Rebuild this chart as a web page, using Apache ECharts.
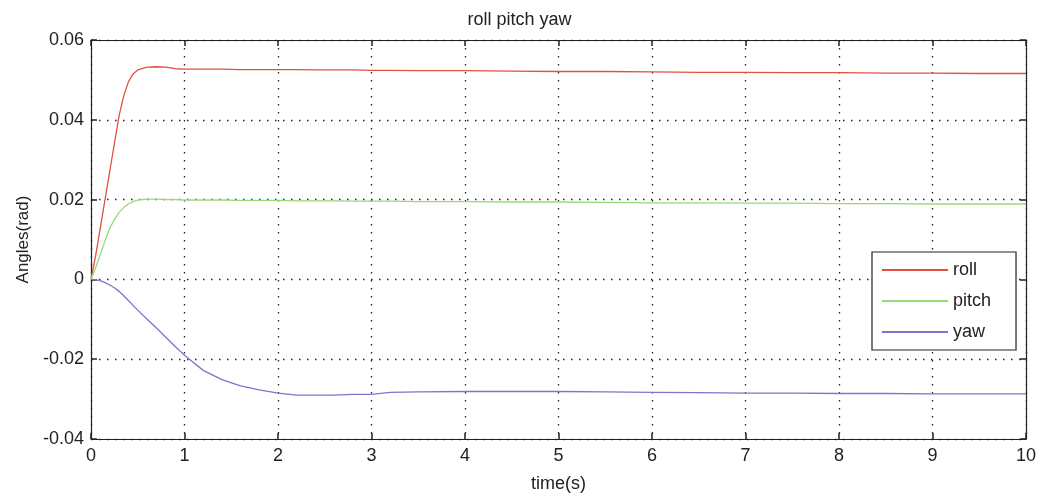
<!DOCTYPE html>
<html>
<head>
<meta charset="utf-8">
<script src="https://cdn.jsdelivr.net/npm/echarts@6/dist/echarts.min.js"></script>
<style>html,body{margin:0;padding:0;background:#fff;}#c{width:1039px;height:500px;}</style>
</head>
<body>
<div id="c"></div>
<script>
const times = [0,0.05,0.1,0.15,0.2,0.25,0.3,0.35,0.4,0.45,0.5,0.6,0.7,0.8,0.9,1.0,1.2,1.4,1.6,1.8,2.0,2.2,2.4,2.6,2.8,3.0,3.2,3.5,4,4.5,5,5.5,6,6.5,7,7.5,8,8.5,9,9.5,10];
const roll = [0,0.006,0.013,0.020,0.027,0.034,0.041,0.046,0.0495,0.0515,0.0525,0.0532,0.0533,0.0532,0.0528,0.0527,0.0527,0.0527,0.0526,0.0526,0.0526,0.0526,0.0525,0.0525,0.0525,0.0524,0.0524,0.0523,0.0523,0.0522,0.0521,0.0521,0.0520,0.0519,0.0519,0.0518,0.0518,0.0517,0.0517,0.0516,0.0516];
const pitch = [0,0.003,0.0063,0.0097,0.0128,0.015,0.0168,0.018,0.0189,0.0195,0.0199,0.0201,0.0201,0.0200,0.0200,0.0199,0.0199,0.0199,0.0198,0.0198,0.0198,0.0197,0.0197,0.0197,0.0196,0.0196,0.0196,0.0195,0.0195,0.0194,0.0194,0.0193,0.0192,0.0192,0.0191,0.0191,0.0190,0.0190,0.0189,0.0189,0.0189];
const yaw = [0,-0.0001,-0.0003,-0.0008,-0.0014,-0.0021,-0.003,-0.0041,-0.0053,-0.0065,-0.0077,-0.0100,-0.0122,-0.0145,-0.0168,-0.0190,-0.0228,-0.0251,-0.0267,-0.0277,-0.0285,-0.0290,-0.0290,-0.0290,-0.0288,-0.0288,-0.0283,-0.0282,-0.0281,-0.0281,-0.0281,-0.0282,-0.0283,-0.0284,-0.0285,-0.0285,-0.0286,-0.0286,-0.0287,-0.0287,-0.0287];
const seriesNames = ['roll','pitch','yaw'];
const colors = ['#e4503e','#95dc78','#7c76cc'];
const titleText = 'roll pitch yaw';
const xName = 'time(s)';
const yName = 'Angles(rad)';

const font = 'Liberation Sans, Arial, sans-serif';
const chart = echarts.init(document.getElementById('c'), null, {renderer:'canvas'});
const pair = arr => times.map((t,i)=>[t,arr[i]]);
const gridLine = {show:true, lineStyle:{color:'#222', width:1.3, type:[1.5,6.5]}};
const axLine = {show:true, onZero:false, lineStyle:{color:'#222', width:1.2}};
const tick = {show:true, inside:true, length:6, lineStyle:{color:'#222', width:1.5}};
chart.setOption({
  animation:false,
  backgroundColor:'#fff',
  title:{text:titleText, left:'center', top:6, textStyle:{fontFamily:font, fontSize:18, fontWeight:'normal', color:'#222'}},
  grid:{left:91, right:12, top:40, bottom:61},
  legend:{
    orient:'vertical', left:872, top:252,
    data:seriesNames,
    icon:'rect', itemWidth:66, itemHeight:2, itemGap:11,
    padding:[8,25,8,10],
    borderColor:'#222', borderWidth:1.2, backgroundColor:'#fff',
    textStyle:{fontFamily:font, fontSize:18, color:'#222', lineHeight:20}
  },
  xAxis:[
    {type:'value', min:0, max:10, interval:1, position:'bottom',
     name:xName, nameLocation:'middle', nameGap:36,
     nameTextStyle:{fontFamily:font, fontSize:18, color:'#222'},
     axisLine:axLine, axisTick:tick, splitLine:gridLine,
     axisLabel:{fontFamily:font, fontSize:18, color:'#222', margin:8}},
    {type:'value', min:0, max:10, interval:1, position:'top',
     axisLine:axLine, axisTick:tick, splitLine:{show:false}, axisLabel:{show:false}}
  ],
  yAxis:[
    {type:'value', min:-0.04, max:0.06, interval:0.02, position:'left',
     name:yName, nameLocation:'middle', nameGap:58, nameRotate:90,
     nameTextStyle:{fontFamily:font, fontSize:17, color:'#222'},
     axisLine:axLine, axisTick:tick, splitLine:gridLine,
     axisLabel:{fontFamily:font, fontSize:18, color:'#222', margin:7,
       formatter: v => Math.abs(v) < 1e-9 ? '0' : v.toFixed(2)}},
    {type:'value', min:-0.04, max:0.06, interval:0.02, position:'right',
     axisLine:axLine, axisTick:tick, splitLine:{show:false}, axisLabel:{show:false}}
  ],
  series:[
    {name:seriesNames[0], type:'line', data:pair(roll), showSymbol:false, symbol:'none', lineStyle:{color:colors[0], width:1.3}, itemStyle:{color:colors[0]}},
    {name:seriesNames[1], type:'line', data:pair(pitch), showSymbol:false, symbol:'none', lineStyle:{color:colors[1], width:1.3}, itemStyle:{color:colors[1]}},
    {name:seriesNames[2], type:'line', data:pair(yaw), showSymbol:false, symbol:'none', lineStyle:{color:colors[2], width:1.3}, itemStyle:{color:colors[2]}}
  ]
});
</script>
</body>
</html>
